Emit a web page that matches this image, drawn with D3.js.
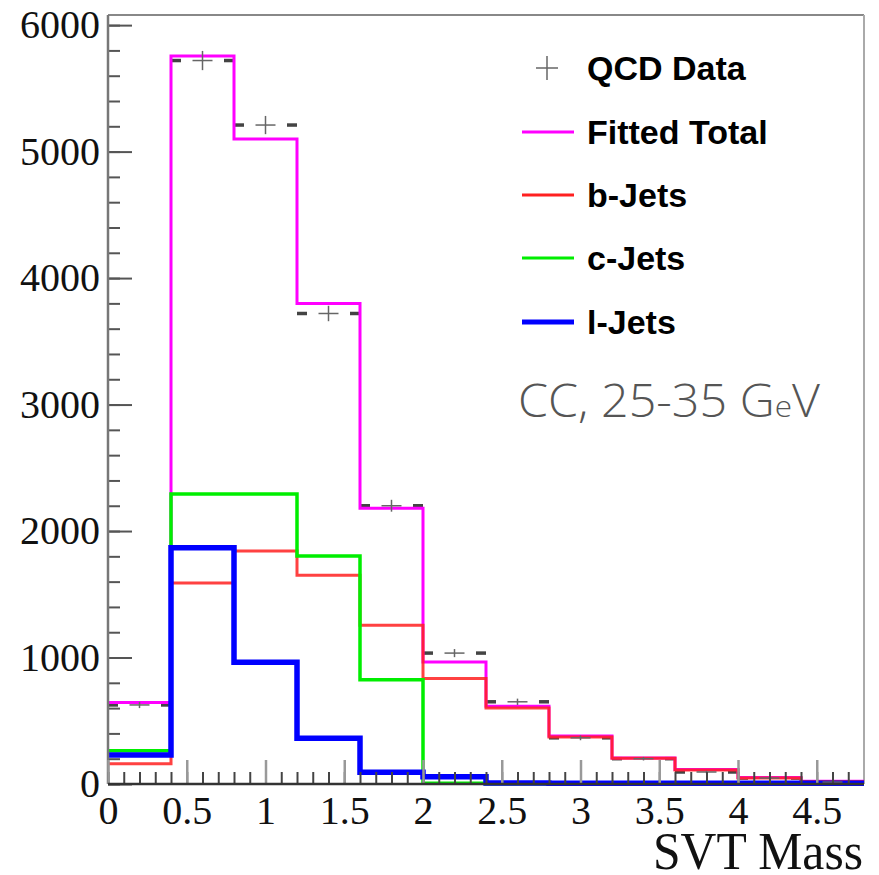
<!DOCTYPE html>
<html>
<head>
<meta charset="utf-8">
<script src="https://cdn.jsdelivr.net/npm/d3@7"></script>
<style>
  html, body { margin: 0; padding: 0; background: #fff; }
  svg { display: block; }
</style>
</head>
<body>
<svg id="chart" width="879" height="875"></svg>
<script>
// ---- data ----
const binEdges = [0, 0.4, 0.8, 1.2, 1.6, 2.0, 2.4, 2.8, 3.2, 3.6, 4.0, 4.4, 4.8];
const qcdData   = [625, 5720, 5210, 3720, 2200, 1035, 650, 365, 200, 95, 47, 15];
const qcdErr    = [25, 76, 72, 61, 47, 32, 25, 19, 14, 10, 7, 4];
const fitTotal  = [645, 5755, 5100, 3800, 2180, 965, 615, 380, 205, 115, 52, 22];
const bJets     = [160, 1590, 1842, 1650, 1255, 835, 600, 372, 203, 110, 48, 20];
const cJets     = [262, 2293, 2293, 1802, 825, 5, 2, 1, 0, 0, 0, 0];
const lJets     = [230, 1868, 962, 362, 92, 58, 8, 6, 5, 5, 5, 5];
const yMajorTicks = [0, 1000, 2000, 3000, 4000, 5000, 6000];
const xMajorTicks = [0, 0.5, 1, 1.5, 2, 2.5, 3, 3.5, 4, 4.5];
const legendLabels = ["QCD Data", "Fitted Total", "b-Jets", "c-Jets", "l-Jets"];
const xTitle = "SVT Mass";

const svg = d3.select("#chart");
const L = 108, R = 864, T = 15, B = 784;
const x = d3.scaleLinear().domain([0, 4.8]).range([L, R]);
const y = d3.scaleLinear().domain([0, 6080]).range([B, T]);

// frame (top / right)
svg.append("line").attr("x1", L).attr("x2", R).attr("y1", T).attr("y2", T)
  .attr("stroke", "#888").attr("stroke-width", 2);
svg.append("line").attr("x1", R).attr("x2", R).attr("y1", T).attr("y2", B)
  .attr("stroke", "#aaa").attr("stroke-width", 2);

// step path helpers
function stepOpen(vals) {
  const pts = [];
  vals.forEach((v, i) => {
    pts.push([x(binEdges[i]), y(v)]);
    pts.push([x(binEdges[i + 1]), y(v)]);
  });
  return "M" + pts.map(p => p.join(",")).join("L");
}

const series = [
  { vals: fitTotal, color: "#ff00ff", w: 3 },
  { vals: bJets,    color: "#ff2020", w: 3, opacity: 0.85 },
  { vals: cJets,    color: "#00ee00", w: 3.5 },
  { vals: lJets,    color: "#0000ff", w: 5.5 }
];

// data dashes (drawn beneath)
const dataG = svg.append("g");
qcdData.forEach((v, i) => {
  const x0 = x(binEdges[i]), x1 = x(binEdges[i + 1]), yy = y(v);
  dataG.append("line").attr("x1", x0).attr("x2", x0 + 10).attr("y1", yy).attr("y2", yy)
    .attr("stroke", "#444").attr("stroke-width", 3.5);
  dataG.append("line").attr("x1", x1 - 10).attr("x2", x1).attr("y1", yy).attr("y2", yy)
    .attr("stroke", "#444").attr("stroke-width", 3.5);
});

series.forEach(s => {
  svg.append("path")
    .attr("d", stepOpen(s.vals))
    .attr("fill", "none")
    .attr("stroke", s.color)
    .attr("stroke-width", s.w)
    .attr("stroke-opacity", s.opacity || 1)
    .attr("stroke-linejoin", "miter");
});

// data crosses
qcdData.forEach((v, i) => {
  const xc = x((binEdges[i] + binEdges[i + 1]) / 2), yy = y(v);
  svg.append("line").attr("x1", xc - 10).attr("x2", xc + 10).attr("y1", yy).attr("y2", yy)
    .attr("stroke", "#666").attr("stroke-width", 1.5);
  svg.append("line").attr("x1", xc).attr("x2", xc).attr("y1", y(v + qcdErr[i])).attr("y2", y(v - qcdErr[i]))
    .attr("stroke", "#666").attr("stroke-width", 1.5);
});

// y axis
const yMinor = d3.range(0, 6001, 200);
svg.append("g").attr("transform", `translate(${L},0)`)
  .call(d3.axisLeft(y).tickValues(yMinor).tickSize(-12).tickFormat(""))
  .call(g => g.select(".domain").remove())
  .selectAll("line").attr("stroke", "#555").attr("stroke-width", 2);
const yAx = svg.append("g").attr("transform", `translate(${L},0)`)
  .call(d3.axisLeft(y).tickValues(yMajorTicks).tickSize(-24).tickPadding(8).tickFormat(d3.format("d")));
yAx.select(".domain").remove();
yAx.selectAll("line").attr("stroke", "#555").attr("stroke-width", 2);
yAx.selectAll("text").attr("font-family", "'Liberation Serif', 'Times New Roman', serif")
  .attr("font-size", 40).attr("fill", "#111");
svg.append("line").attr("x1", L).attr("x2", L).attr("y1", T).attr("y2", B)
  .attr("stroke", "#777").attr("stroke-width", 2.5);

// x axis
const xMinor = d3.range(0, 48).map(d => d / 10);
svg.append("g").attr("transform", `translate(0,${B})`)
  .call(d3.axisBottom(x).tickValues(xMinor).tickSize(-12).tickFormat(""))
  .call(g => g.select(".domain").remove())
  .selectAll("line").attr("stroke", "#444").attr("stroke-width", 2);
const xAx = svg.append("g").attr("transform", `translate(0,${B})`)
  .call(d3.axisBottom(x).tickValues(xMajorTicks).tickSize(-24).tickPadding(12).tickFormat(d => d));
xAx.select(".domain").remove();
xAx.selectAll("line").attr("stroke", "#999").attr("stroke-width", 2.5);
xAx.selectAll("text").attr("font-family", "'Liberation Serif', 'Times New Roman', serif")
  .attr("font-size", 40).attr("fill", "#111");
svg.append("line").attr("x1", L).attr("x2", R).attr("y1", B).attr("y2", B)
  .attr("stroke", "#333").attr("stroke-width", 2.5);

// x title
svg.append("text").attr("x", 863).attr("y", 869).attr("text-anchor", "end")
  .attr("font-family", "'Liberation Serif', 'Times New Roman', serif")
  .attr("font-size", 52).attr("fill", "#111")
  .attr("textLength", 210).attr("lengthAdjust", "spacingAndGlyphs")
  .text(xTitle);

// legend
const legendColors = [null, "#ff00ff", "#ff2020", "#00ee00", "#0000ff"];
const legendW = [0, 3, 3, 3, 5];
const legY = [68, 132, 195, 258, 322];
legendLabels.forEach((lab, i) => {
  const yy = legY[i];
  if (i === 0) {
    svg.append("line").attr("x1", 536).attr("x2", 558).attr("y1", yy).attr("y2", yy)
      .attr("stroke", "#666").attr("stroke-width", 1.5);
    svg.append("line").attr("x1", 547).attr("x2", 547).attr("y1", yy - 12).attr("y2", yy + 12)
      .attr("stroke", "#666").attr("stroke-width", 1.5);
  } else {
    svg.append("line").attr("x1", 522).attr("x2", 574).attr("y1", yy).attr("y2", yy)
      .attr("stroke", legendColors[i]).attr("stroke-width", legendW[i]);
  }
  svg.append("text").attr("x", 587).attr("y", yy).attr("dy", "0.36em")
    .attr("font-family", "'Liberation Sans', Arial, sans-serif").attr("font-weight", "bold")
    .attr("font-size", 34).attr("fill", "#000").text(lab);
});

// annotation
const ann = svg.append("text").attr("x", 518).attr("y", 417)
  .attr("font-family", "'Open Sans', 'Lato', 'DejaVu Sans', sans-serif").attr("font-weight", 300)
  .attr("font-size", 46).attr("fill", "#555")
  .attr("textLength", 302).attr("lengthAdjust", "spacingAndGlyphs");
ann.append("tspan").text("CC, 25-35 G");
ann.append("tspan").attr("font-size", 30).text("e");
ann.append("tspan").text("V");
</script>
</body>
</html>
